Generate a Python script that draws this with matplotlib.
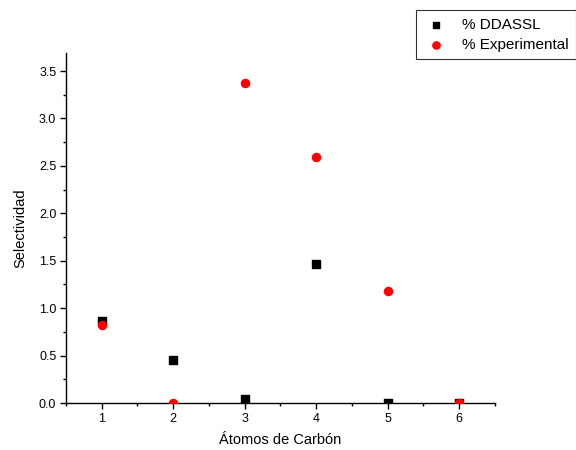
import matplotlib
matplotlib.use("Agg")
import matplotlib.pyplot as plt
from matplotlib.ticker import MultipleLocator

plt.rcParams['font.family'] = ['Liberation Sans', 'DejaVu Sans']

carbon_atoms = [1, 2, 3, 4, 5, 6]
ddassl = [0.86, 0.45, 0.04, 1.47, 0.0, 0.0]
experimental = [0.82, 0.0, 3.37, 2.59, 1.18, 0.0]

fig = plt.figure(figsize=(5.76, 4.5), dpi=100)
ax = fig.add_axes([0.1146, 0.1044, 0.7444, 0.7778])

ax.scatter(carbon_atoms, ddassl, marker='s', s=30, color='black', label='% DDASSL', zorder=3)
ax.scatter(carbon_atoms, experimental, marker='o', s=34, color='red', label='% Experimental', zorder=4)

ax.set_xlim(0.5, 6.5)
ax.set_ylim(0, 3.69)
ax.xaxis.set_major_locator(MultipleLocator(1))
ax.xaxis.set_minor_locator(MultipleLocator(0.5))
ax.yaxis.set_major_locator(MultipleLocator(0.5))
ax.yaxis.set_minor_locator(MultipleLocator(0.25))
ax.yaxis.set_major_formatter(plt.FuncFormatter(lambda v, p: f"{v:.1f}"))

for s in ['top', 'right']:
    ax.spines[s].set_visible(False)
for s in ['left', 'bottom']:
    ax.spines[s].set_linewidth(1.0)

ax.tick_params(which='major', direction='out', length=4, width=1, labelsize=9, pad=3)
ax.tick_params(which='minor', direction='out', length=2.5, width=1)

ax.set_xlabel('Átomos de Carbón', fontsize=10.5, labelpad=6)
ax.set_ylabel('Selectividad', fontsize=10.5, labelpad=8)

leg = fig.legend(loc='upper left', bbox_to_anchor=(416/576, 1 - 10/450),
                 fontsize=11, frameon=True, fancybox=False, edgecolor='black',
                 handletextpad=0.9, borderpad=0.5, labelspacing=0.4,
                 handlelength=1.6, borderaxespad=0, markerscale=0.9)
leg.get_frame().set_linewidth(0.8)

fig.savefig('out.png', dpi=100)
